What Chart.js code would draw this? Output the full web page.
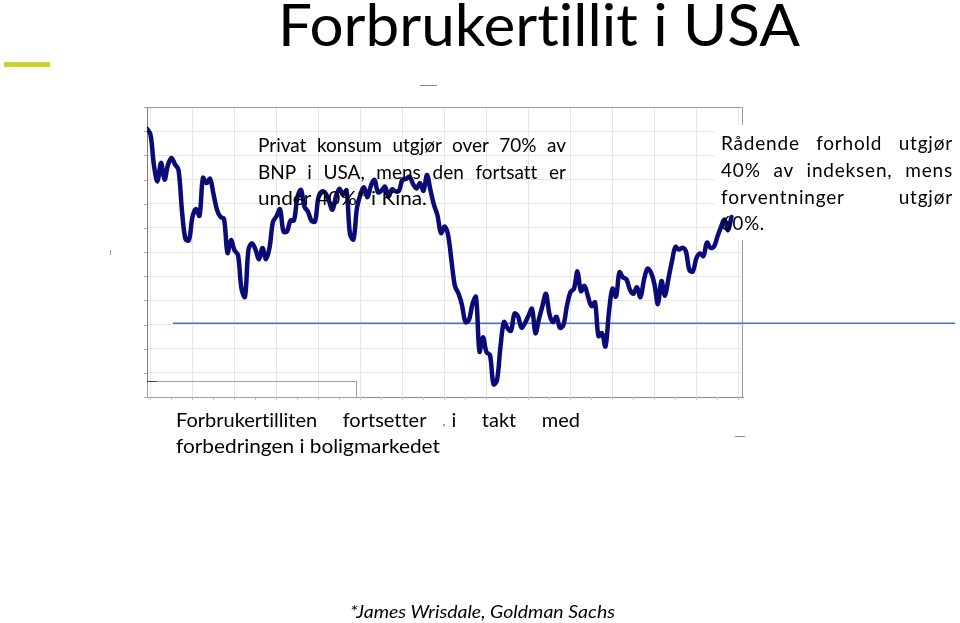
<!DOCTYPE html>
<html>
<head>
<meta charset="utf-8">
<script src="https://cdn.jsdelivr.net/npm/chart.js@4.4.1/dist/chart.umd.min.js"></script>
<style>
  html,body{margin:0;padding:0;background:#fff;}
  body{width:960px;height:623px;position:relative;overflow:hidden;}
  #c{position:absolute;left:0;top:0;z-index:1;}
  .ln{position:absolute;white-space:nowrap;display:inline-block;line-height:1;color:#000;z-index:3;transform-origin:left top;font-variant-ligatures:none;font-feature-settings:"liga" 0,"clig" 0;}
  .lato{font-family:Lato,"Open Sans",sans-serif;}
  .deco{position:absolute;z-index:2;}
</style>
</head>
<body>
<canvas id="c" width="960" height="623"></canvas>

<div class="deco" style="left:4px;top:62px;width:46px;height:5px;background:#c9d42c;"></div>
<div class="deco" style="left:420px;top:85px;width:17px;height:1px;background:#8a8a8a;"></div>
<div class="deco" style="left:735px;top:436px;width:10px;height:1px;background:#8a8a8a;"></div>
<div class="deco" style="left:110px;top:250px;width:1px;height:5px;background:#9a9a9a;"></div>
<div class="deco" style="left:443px;top:424px;width:2px;height:2px;background:#9a9a9a;"></div>
<div class="deco" style="left:147px;top:381px;width:210px;height:17px;border:1px solid #a0a0a0;box-sizing:border-box;"></div>
<div class="deco" style="left:147px;top:381px;width:10px;height:1px;background:#444;"></div>
<div id="noteR" style="position:absolute;left:715px;top:125px;width:245px;height:115px;z-index:0;"></div>

<div class="ln lato" data-w="522" style="left:278px;top:-5px;font-size:58px;">Forbrukertillit i USA</div>

<div class="ln lato" data-w="308" data-j="1" style="left:258px;top:135px;font-size:19px;">Privat konsum utgjør over 70% av</div>
<div class="ln lato" data-w="308" data-j="1" style="left:258px;top:161.5px;font-size:19px;">BNP i USA, mens den fortsatt er</div>
<div class="ln lato" data-w="169" style="left:258px;top:187.5px;font-size:19px;">under 40%* i Kina.</div>

<div class="ln lato" data-w="232" data-j="1" style="left:721px;top:133px;font-size:19px;letter-spacing:0.8px;">Rådende forhold utgjør</div>
<div class="ln lato" data-w="232" data-j="1" style="left:721px;top:159.8px;font-size:19px;letter-spacing:0.8px;">40% av indeksen, mens</div>
<div class="ln lato" data-w="232" data-j="1" style="left:721px;top:186.5px;font-size:19px;letter-spacing:0.8px;">forventninger utgjør</div>
<div class="ln lato" data-w="44" style="left:721px;top:213px;font-size:19px;letter-spacing:0.8px;">60%.</div>

<div class="ln lato" data-w="404" data-j="1" style="left:176px;top:408.5px;font-size:20px;">Forbrukertilliten fortsetter i takt med</div>
<div class="ln lato" data-w="264" style="left:176px;top:435px;font-size:20px;">forbedringen i boligmarkedet</div>

<div class="ln lato" data-w="265" style="left:350px;top:602px;font-size:18px;font-style:italic;">*James Wrisdale, Goldman Sachs</div>

<script>
// ---- data: Conference Board consumer confidence, monthly, Nov 2000 - Oct 2014 ----
const startYear = 2000;
const startMonth = 11; // November
const confidence = [
  131.0, 128.6,
  115.7, 109.2, 116.9, 109.9, 116.1, 118.9, 116.3, 114.0, 97.0, 85.3, 84.9, 94.6,
  97.8, 95.0, 110.7, 108.5, 110.3, 104.0, 97.4, 94.5, 93.7, 79.6, 84.9, 80.7,
  78.8, 64.8, 61.4, 81.0, 83.6, 81.0, 77.0, 81.7, 77.0, 81.7, 92.5, 94.8,
  97.7, 88.5, 88.5, 93.0, 93.1, 102.8, 105.7, 98.7, 96.7, 92.9, 92.6, 102.7,
  105.1, 104.4, 101.0, 97.5, 103.1, 106.2, 103.6, 105.5, 87.5, 85.2, 98.3, 103.8,
  106.8, 102.7, 107.5, 109.8, 104.7, 105.4, 107.0, 103.0, 105.9, 105.1, 105.3, 110.0,
  110.2, 111.2, 108.2, 106.3, 108.5, 105.3, 111.9, 105.6, 99.5, 95.2, 87.8, 90.6,
  87.3, 76.4, 65.9, 62.8, 58.1, 51.0, 51.9, 58.5, 61.4, 38.8, 44.7, 38.6,
  37.4, 25.3, 26.9, 40.8, 51.0, 48.5, 47.4, 54.5, 53.4, 48.7, 50.6, 53.6,
  56.5, 46.4, 52.3, 57.7, 62.7, 54.3, 51.0, 53.2, 48.6, 49.9, 57.8, 63.4,
  64.8, 72.0, 63.8, 66.0, 61.7, 57.6, 59.2, 45.2, 46.4, 40.9, 55.2, 64.8,
  61.5, 71.6, 69.5, 68.7, 64.4, 62.7, 65.4, 61.3, 68.4, 73.1, 71.5, 66.7,
  58.4, 68.0, 61.9, 69.0, 76.2, 82.1, 81.0, 81.8, 80.2, 72.4, 72.0, 77.5,
  79.4, 78.3, 83.9, 81.7, 82.2, 86.4, 90.3, 93.4, 89.0, 94.5
];
const yMin = 20, yMax = 140, yStep = 10;
const referenceLevel = 50.5;   // horizontal blue line
const referenceStart = 7.4;    // month index where the blue line begins
const xMax = 170.3;            // months shown on the axis

// month labels derived from start
const months = confidence.map((_, i) => {
  const m = (startMonth - 1 + i) % 12, y = startYear + Math.floor((startMonth - 1 + i) / 12);
  return y + '-' + String(m + 1).padStart(2, '0');
});
// vertical grid at each December
const gridMonths = [];
for (let i = 0; i <= xMax; i++) { if ((startMonth - 1 + i) % 12 === 11) gridMonths.push(i); }
const minorMonths = [];
for (let i = gridMonths[0]; i <= xMax; i += 6) minorMonths.push(i);

// ---- fit text lines ----
document.querySelectorAll('.ln').forEach(el => {
  const w = +el.dataset.w, j = el.dataset.j === '1';
  const nat = el.getBoundingClientRect().width;
  if (j && nat < w) {
    const spaces = (el.textContent.match(/ /g) || []).length;
    if (spaces) el.style.wordSpacing = ((w - nat) / spaces) + 'px';
  } else {
    el.style.transform = 'scaleX(' + (w / nat) + ')';
  }
});

const decor = {
  id: 'decor',
  beforeDatasetsDraw(chart) {
    const {ctx, chartArea: a, scales: {x, y}} = chart;
    ctx.save();
    const r = document.getElementById('noteR').getBoundingClientRect();
    const c = chart.canvas.getBoundingClientRect();
    ctx.fillStyle = '#ffffff';
    ctx.fillRect(r.left - c.left, r.top - c.top, r.width, r.height);
    ctx.strokeStyle = '#9c9c9c';
    ctx.lineWidth = 1;
    ctx.beginPath();
    ctx.moveTo(a.left, a.top + 0.5); ctx.lineTo(a.right - 0.5, a.top + 0.5);
    ctx.lineTo(a.right - 0.5, r.top - c.top);
    ctx.moveTo(a.right - 0.5, r.bottom - c.top); ctx.lineTo(a.right - 0.5, a.bottom);
    ctx.stroke();
    ctx.strokeStyle = '#c4c4c4';
    ctx.beginPath();
    minorMonths.forEach(m => { const px = Math.round(x.getPixelForValue(m)) + 0.5; ctx.moveTo(px, a.bottom); ctx.lineTo(px, a.bottom + 3); });
    ctx.stroke();
    ctx.strokeStyle = '#a8a8a8';
    ctx.beginPath();
    for (let v = yMin; v <= yMax; v += yStep) { const py = Math.round(y.getPixelForValue(v)) + 0.5; ctx.moveTo(a.left - 3, py); ctx.lineTo(a.left, py); }
    ctx.stroke();
    const yy = y.getPixelForValue(referenceLevel);
    ctx.strokeStyle = '#4a72c2';
    ctx.lineWidth = 1.6;
    ctx.beginPath();
    ctx.moveTo(x.getPixelForValue(referenceStart), yy);
    ctx.lineTo(chart.width - 5, yy);
    ctx.stroke();
    ctx.restore();
  }
};

new Chart(document.getElementById('c'), {
  type: 'line',
  data: {
    labels: months,
    datasets: [{
      data: confidence.map((v, i) => ({x: i, y: v})),
      borderColor: '#0b0b78',
      borderWidth: 4.5,
      pointRadius: 0,
      tension: 0.35,
      fill: false,
      borderCapStyle: 'round',
      borderJoinStyle: 'round'
    }]
  },
  options: {
    responsive: false,
    animation: false,
    devicePixelRatio: 1,
    layout: {padding: {left: 147, top: 107, right: 217, bottom: 226}},
    plugins: {legend: {display: false}, tooltip: {enabled: false}},
    scales: {
      x: {
        type: 'linear', min: 0, max: xMax,
        afterBuildTicks: s => { s.ticks = gridMonths.map(v => ({value: v})); },
        ticks: {display: false, autoSkip: false},
        grid: {color: '#e6e6e6', lineWidth: 1, drawTicks: false},
        border: {display: true, color: '#8c8c8c', width: 1}
      },
      y: {
        min: yMin, max: yMax,
        ticks: {display: false, stepSize: yStep},
        grid: {color: '#e6e6e6', lineWidth: 1, drawTicks: false},
        border: {display: true, color: '#7a7a7a', width: 1}
      }
    }
  },
  plugins: [decor]
});
</script>
</body>
</html>
